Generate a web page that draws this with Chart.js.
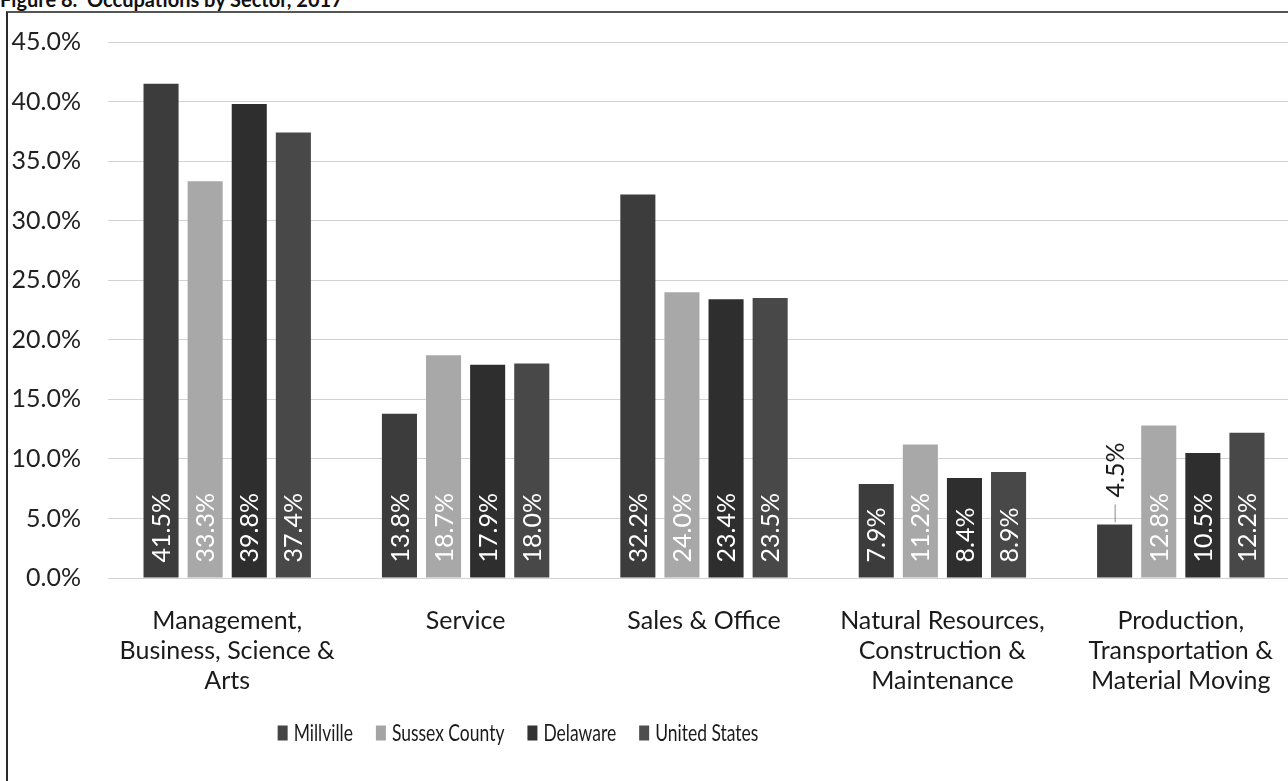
<!DOCTYPE html>
<html>
<head>
<meta charset="utf-8">
<title>Occupations by Sector, 2017</title>
<script src="https://cdn.jsdelivr.net/npm/chart.js@4.4.1/dist/chart.umd.min.js"></script>
<style>
  html, body { margin: 0; padding: 0; background: #fff; overflow: hidden; }
  #wrap { position: relative; width: 1288px; height: 781px; overflow: hidden; }
  #title {
    position: absolute; left: 0; top: -12px;
    font: bold 20px Lato, sans-serif; color: #111; white-space: nowrap; line-height: 22px;
  }
  #frame {
    position: absolute; left: 6px; top: 11px; width: 1400px; height: 800px;
    border-left: 2px solid #2a2a2a; border-top: 2px solid #555;
  }
  #chartBox { position: absolute; left: 0; top: 0; width: 1300px; height: 781px; }
</style>
</head>
<body>
<div id="wrap">
  <div id="title">Figure 8.&nbsp; Occupations by Sector, 2017</div>
  <div id="frame"></div>
  <div id="chartBox"><canvas id="chart" width="1300" height="781"></canvas></div>
</div>
<script>
// Occupation sectors (multi-line axis labels)
const categories = [
  ["Management,", "Business, Science &", "Arts"],
  ["Service"],
  ["Sales & Office"],
  ["Natural Resources,", "Construction &", "Maintenance"],
  ["Production,", "Transportation &", "Material Moving"]
];

// Share of employed population by sector, percent
const millville = [41.5, 13.8, 32.2, 7.9, 4.5];
const sussexCounty = [33.3, 18.7, 24.0, 11.2, 12.8];
const delaware = [39.8, 17.9, 23.4, 8.4, 10.5];
const unitedStates = [37.4, 18.0, 23.5, 8.9, 12.2];

const seriesNames = ["Millville", "Sussex County", "Delaware", "United States"];
const seriesColors = ["#3c3c3c", "#a8a8a8", "#2e2e2e", "#484848"];
const legendColors = ["#444444", "#a4a4a4", "#333333", "#4e4e4e"];

// Y axis range and step
const yMin = 0, yMax = 45, yStep = 5;

const FONT = "Lato, 'Open Sans', sans-serif";

// Rotated value labels: inside the base when they fit, otherwise above the bar with a leader line
const valueLabels = {
  id: "valueLabels",
  afterDatasetsDraw(chart) {
    const ctx = chart.ctx;
    ctx.save();
    ctx.font = "25px " + FONT;
    chart.data.datasets.forEach((ds, i) => {
      const meta = chart.getDatasetMeta(i);
      meta.data.forEach((bar, j) => {
        const text = ds.data[j].toFixed(1) + "%";
        const w = ctx.measureText(text).width;
        const h = bar.base - bar.y;
        ctx.save();
        ctx.textAlign = "left";
        ctx.textBaseline = "middle";
        if (h >= w + 24) {
          ctx.translate(bar.x + 1, bar.base - 15);
          ctx.rotate(-Math.PI / 2);
          ctx.fillStyle = "#ffffff";
          ctx.fillText(text, 0, 0);
        } else {
          ctx.strokeStyle = "#8a8a8a";
          ctx.lineWidth = 1;
          ctx.beginPath();
          ctx.moveTo(bar.x + 0.5, bar.y - 2);
          ctx.lineTo(bar.x + 0.5, bar.y - 20);
          ctx.stroke();
          ctx.translate(bar.x + 1, bar.y - 27);
          ctx.rotate(-Math.PI / 2);
          ctx.fillStyle = "#1a1a1a";
          ctx.fillText(text, 0, 0);
        }
        ctx.restore();
      });
    });
    ctx.restore();
  }
};

// Legend row below the axis labels (text set slightly condensed)
const bottomLegend = {
  id: "bottomLegend",
  afterDraw(chart) {
    const ctx = chart.ctx;
    const opts = chart.options.plugins.bottomLegend;
    ctx.save();
    ctx.font = opts.size + "px " + FONT;
    ctx.textBaseline = "middle";
    const items = chart.data.datasets.map((ds, i) => ({
      label: ds.label, color: legendColors[i], w: ctx.measureText(ds.label).width * opts.squeeze
    }));
    const total = items.reduce((s, it) => s + opts.boxW + opts.gap + it.w, 0) + opts.spacing * (items.length - 1);
    let x = opts.centerX - total / 2;
    items.forEach(it => {
      ctx.fillStyle = it.color;
      ctx.fillRect(x, opts.y - opts.boxH / 2, opts.boxW, opts.boxH);
      x += opts.boxW + opts.gap;
      ctx.save();
      ctx.translate(x, opts.y + 1);
      ctx.scale(opts.squeeze, 1);
      ctx.fillStyle = "#1a1a1a";
      ctx.fillText(it.label, 0, 0);
      ctx.restore();
      x += it.w + opts.spacing;
    });
    ctx.restore();
  }
};

const seriesData = [millville, sussexCounty, delaware, unitedStates];

new Chart(document.getElementById("chart"), {
  type: "bar",
  data: {
    labels: categories,
    datasets: seriesData.map((d, i) => ({
      label: seriesNames[i],
      data: d,
      backgroundColor: seriesColors[i],
      borderWidth: 0,
      categoryPercentage: 0.74,
      barPercentage: 0.795
    }))
  },
  options: {
    responsive: false,
    animation: false,
    devicePixelRatio: 1,
    layout: { padding: { top: 42, right: 0, left: 0, bottom: 0 } },
    plugins: {
      legend: { display: false },
      tooltip: { enabled: false },
      bottomLegend: { centerX: 518, y: 733, boxW: 10, boxH: 15, gap: 6, spacing: 23, size: 23, squeeze: 0.76 }
    },
    scales: {
      x: {
        grid: { display: false },
        border: { display: false },
        ticks: {
          color: "#1a1a1a",
          font: { family: FONT, size: 25, lineHeight: 1.2 },
          padding: 20,
          maxRotation: 0,
          autoSkip: false
        },
        afterFit(scale) { scale.height = 203; }
      },
      y: {
        min: yMin,
        max: yMax,
        border: { display: false },
        grid: { color: "#d2d2d2", lineWidth: 1, drawTicks: false },
        ticks: {
          stepSize: yStep,
          color: "#222222",
          font: { family: FONT, size: 25 },
          padding: 27,
          callback: v => v.toFixed(1) + "%"
        },
        afterFit(scale) { scale.width = 108; }
      }
    }
  },
  plugins: [valueLabels, bottomLegend]
});
</script>
</body>
</html>
